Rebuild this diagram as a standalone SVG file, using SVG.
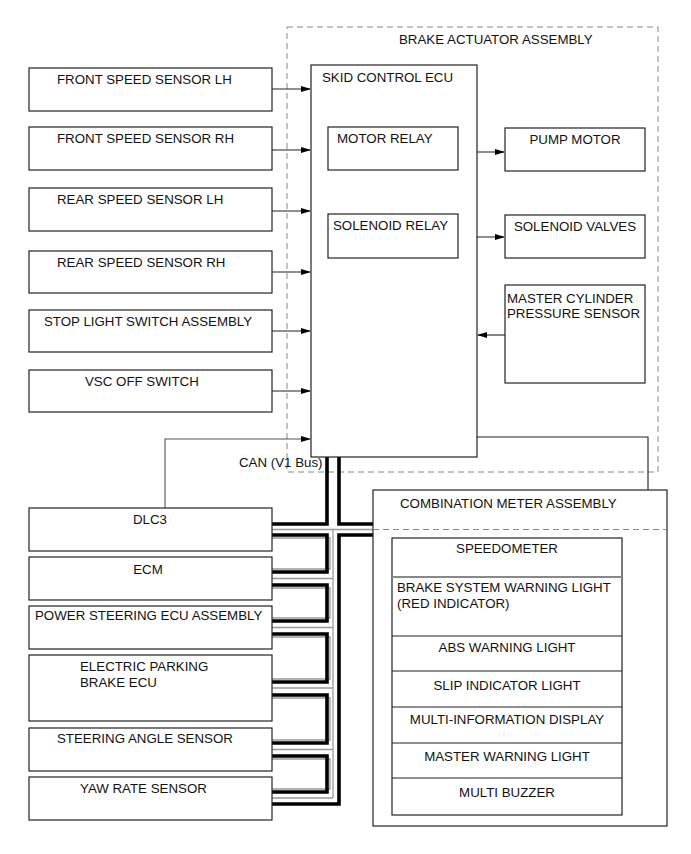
<svg xmlns="http://www.w3.org/2000/svg" width="691" height="854" viewBox="0 0 691 854">
<style>
text{font-family:"Liberation Sans",Arial,sans-serif;font-size:13.3px;fill:#111}
.box{fill:#fff;stroke:#222;stroke-width:1.2}
.dash{fill:none;stroke:#888;stroke-width:1;stroke-dasharray:6,4}
.ln{fill:none;stroke:#222;stroke-width:1.1}
.bus{fill:none;stroke:#000;stroke-width:3.6}
.gry{fill:none;stroke:#999;stroke-width:1.3}
.c{text-anchor:middle}
</style>
<defs>
<marker id="ah" markerWidth="10" markerHeight="8" refX="9" refY="4" orient="auto" markerUnits="userSpaceOnUse">
<path d="M0,1 L10,4 L0,7 z" fill="#000"/>
</marker>
</defs>
<rect width="691" height="854" fill="#fff"/>

<g id="brake-actuator">
<rect class="dash" x="287" y="27" width="371" height="445"/>
<text x="399" y="44">BRAKE ACTUATOR ASSEMBLY</text>
</g>

<g id="connectors">
<path class="ln" d="M272,89 H310" marker-end="url(#ah)"/>
<path class="ln" d="M272,150 H310" marker-end="url(#ah)"/>
<path class="ln" d="M272,211 H310" marker-end="url(#ah)"/>
<path class="ln" d="M272,272 H310" marker-end="url(#ah)"/>
<path class="ln" d="M272,331 H310" marker-end="url(#ah)"/>
<path class="ln" d="M272,391 H310" marker-end="url(#ah)"/>
<path class="ln" d="M458,152 H504" marker-end="url(#ah)"/>
<path class="ln" d="M458,237 H504" marker-end="url(#ah)"/>
<path class="ln" d="M505,335 H478" marker-end="url(#ah)"/>
<path class="ln" d="M165,508 V439 H310" marker-end="url(#ah)" style="stroke:#555"/>
<path class="ln" d="M477,437 H648 V561 H621" marker-end="url(#ah)"/>
<!-- CAN bus -->
<path class="gry" d="M272,529.5 H373"/>
<path class="gry" d="M333,529.5 V798"/>
<path class="gry" d="M272,578.5 H333 M272,627.5 H333 M272,688 H333 M272,749.5 H333 M272,798 H333"/>
<path class="gry" d="M272,538 H330 V569 H272 M272,588 H330 V618 H272 M272,637 H330 V679 H272 M272,698 H330 V740 H272 M272,759 H330 V789 H272"/>
<path class="bus" d="M327,457 V524 H272"/>
<path class="bus" d="M339,457 V524 H373"/>
<path class="bus" d="M373,535 H339 V804 H272"/>
<path class="bus" d="M272,535 H327 V572 H272"/>
<path class="bus" d="M272,585 H327 V621 H272"/>
<path class="bus" d="M272,634 H327 V682 H272"/>
<path class="bus" d="M272,695 H327 V743 H272"/>
<path class="bus" d="M272,756 H327 V792 H272"/>
</g>

<g id="front-speed-lh"><rect class="box" x="29" y="68" width="243" height="43"/><text x="57" y="84">FRONT SPEED SENSOR LH</text></g>
<g id="front-speed-rh"><rect class="box" x="29" y="127" width="243" height="43"/><text x="57" y="143">FRONT SPEED SENSOR RH</text></g>
<g id="rear-speed-lh"><rect class="box" x="29" y="188" width="243" height="43"/><text x="57" y="204">REAR SPEED SENSOR LH</text></g>
<g id="rear-speed-rh"><rect class="box" x="29" y="251" width="243" height="42"/><text x="57" y="267">REAR SPEED SENSOR RH</text></g>
<g id="stop-light"><rect class="box" x="29" y="310" width="243" height="42"/><text x="44" y="326">STOP LIGHT SWITCH ASSEMBLY</text></g>
<g id="vsc-off"><rect class="box" x="29" y="370" width="243" height="42"/><text x="85" y="386">VSC OFF SWITCH</text></g>

<g id="skid-ecu"><rect class="box" x="311" y="65" width="166" height="392"/><text x="322" y="82">SKID CONTROL ECU</text></g>
<g id="motor-relay"><rect class="box" x="328" y="127" width="130" height="43"/><text x="337" y="143">MOTOR RELAY</text></g>
<g id="solenoid-relay"><rect class="box" x="328" y="214" width="130" height="44"/><text x="333" y="230">SOLENOID RELAY</text></g>
<g id="pump-motor"><rect class="box" x="505" y="128" width="140" height="43"/><text x="575" y="144" class="c">PUMP MOTOR</text></g>
<g id="solenoid-valves"><rect class="box" x="505" y="215" width="140" height="43"/><text x="575" y="231" class="c">SOLENOID VALVES</text></g>
<g id="mc-sensor"><rect class="box" x="505" y="285" width="140" height="98"/><text x="507" y="303">MASTER CYLINDER</text><text x="507" y="318">PRESSURE SENSOR</text></g>

<g id="can-label"><text x="239" y="467">CAN (V1 Bus)</text></g>

<g id="dlc3"><rect class="box" x="29" y="508" width="243" height="43"/><text x="150" y="524" class="c">DLC3</text></g>
<g id="ecm"><rect class="box" x="29" y="557" width="243" height="43"/><text x="148" y="574" class="c">ECM</text></g>
<g id="power-steering"><rect class="box" x="29" y="606" width="243" height="43"/><text x="35" y="620">POWER STEERING ECU ASSEMBLY</text></g>
<g id="epb"><rect class="box" x="29" y="655" width="243" height="66"/><text x="80" y="671">ELECTRIC PARKING</text><text x="80" y="687">BRAKE ECU</text></g>
<g id="steering-angle"><rect class="box" x="29" y="728" width="243" height="43"/><text x="57" y="743">STEERING ANGLE SENSOR</text></g>
<g id="yaw-rate"><rect class="box" x="29" y="777" width="243" height="43"/><text x="80" y="793">YAW RATE SENSOR</text></g>

<g id="combination-meter">
<rect class="box" x="373" y="490" width="294" height="336"/>
<text x="400" y="508">COMBINATION METER ASSEMBLY</text>
<path class="dash" d="M373,529.5 H667"/>
</g>
<g id="meter-items">
<rect class="box" x="392" y="538" width="230" height="277"/>
<path d="M392,577 H622" stroke="#888" stroke-width="2"/>
<path class="ln" d="M392,636 H622 M392,671 H622 M392,707 H622 M392,743 H622 M392,778 H622"/>
<text x="507" y="553" class="c">SPEEDOMETER</text>
<text x="397" y="592">BRAKE SYSTEM WARNING LIGHT</text>
<text x="397" y="608">(RED INDICATOR)</text>
<text x="507" y="652" class="c">ABS WARNING LIGHT</text>
<text x="507" y="690" class="c">SLIP INDICATOR LIGHT</text>
<text x="507" y="724" class="c">MULTI-INFORMATION DISPLAY</text>
<text x="507" y="761" class="c">MASTER WARNING LIGHT</text>
<text x="507" y="797" class="c">MULTI BUZZER</text>
</g>
</svg>
